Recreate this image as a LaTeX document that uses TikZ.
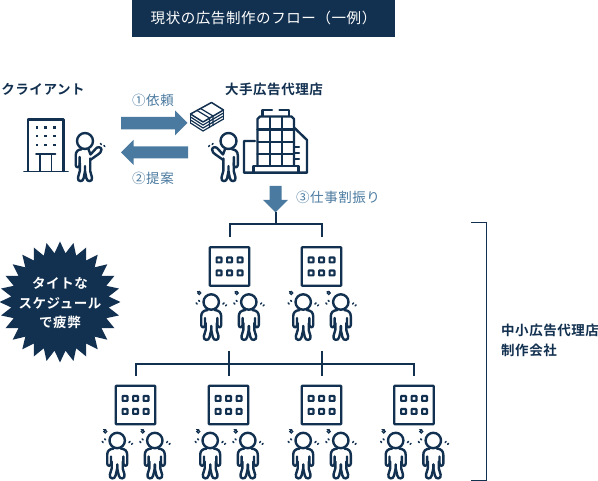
\documentclass[tikz,border=0pt]{standalone}
\usepackage{fontspec}
\usetikzlibrary{shapes.geometric}
\setmainfont{Noto Sans CJK JP}[BoldFont={Noto Sans CJK JP Bold},LetterSpace=4]
\definecolor{navy}{HTML}{12304F}
\definecolor{steel}{HTML}{4A7A9F}
\tikzset{
  ink/.style={draw=navy,line width=2.4pt,line cap=round,line join=round},
  thin ink/.style={draw=navy,line width=1.5pt,line cap=round},
  tree/.style={draw=navy,line width=2pt,line join=miter},
  company/.style={draw=navy,line width=2.3pt,rectangle,rounded corners=0.8pt,minimum width=39.5pt,minimum height=38.5pt,inner sep=0pt},
  win/.style={draw=navy,line width=2.2pt,rounded corners=0.6pt},
  blue label/.style={text=steel,font=\fontsize{13.5}{15}\selectfont,inner sep=0pt},
  bold label/.style={text=navy,font=\fontsize{13.5}{15}\selectfont\bfseries,inner sep=0pt},
  pics/worried/.style={code={
    \draw[ink,fill=white] (0,0) circle (7.7);
    \foreach \s in {1,-1}{
      \begin{scope}[xscale=\s]
      \draw[ink] (3.5,8) .. controls (8,8.5) and (10,10.5) .. (10,14.5) -- (10,23)
        .. controls (10,26) and (6.2,26) .. (6.2,23) -- (6.2,16);
      \draw[ink] (5.5,21) -- (5.5,28) -- (7.3,34)
        .. controls (8.6,38.5) and (2.2,39.5) .. (1.6,35) -- (0,28) -- (0,24);
      \end{scope}}
    \draw[thin ink] (-15,1) -- (-14,2) (-12.6,-1.6) -- (-11.6,-0.6);
    \draw[thin ink] (11.8,2) -- (12.8,1) (14.4,3.8) -- (15.4,2.8);
    \draw[draw=navy,line width=1.3pt,fill=white] (-12,-9) circle (1.5);
    \draw[navy,line width=1.3pt,line cap=round] (-13.7,-10.8) -- (-11.5,-10.8);
  }},
  pics/caller/.style={code={
    \draw[ink,fill=white] (0,0) circle (8);
    \draw[ink] (-3.5,8.3) .. controls (-7,8.5) and (-9.3,10.5) .. (-9.3,14.5) -- (-9.3,24)
      .. controls (-9.3,27) and (-5.4,27) .. (-5.4,24) -- (-5.4,16);
    \draw[ink] (-5.2,22) -- (-5.2,30) -- (-7,36.5)
      .. controls (-8,41) and (-1.8,41.5) .. (-1.3,37) -- (0,30) -- (0,25)
      (0,30) -- (1.3,37) .. controls (1.8,41.5) and (8,41) .. (7,36.5) -- (5.2,30) -- (5.2,17.5);
    \draw[ink] (3.5,8.3) -- (5.5,13.5) -- (10.5,8) .. controls (12,5.5) and (16,5.5) .. (16.5,8.5)
      .. controls (16.5,11) and (14.5,12.5) .. (13,13.5) -- (5.2,19);
    \draw[thin ink] (15.5,2.5) -- (16.3,3.5) (19,4.5) -- (19.8,5.5);
  }},
}
\begin{document}
\begin{tikzpicture}[x=1pt,y=-1pt]
\useasboundingbox (0,0) rectangle (598,481);
% banner
\fill[navy] (132,0) rectangle (395,37);
\node[text=white,inner sep=0pt,font=\fontsize{14.5}{16}\selectfont] (title) at (263.5,18) {現状の広告制作のフロー（一例）};
% top labels
\node[bold label] (client) at (43,89.5) {クライアント};
\node[bold label] (agency) at (274,89.5) {大手広告代理店};
\node[blue label] (l1) at (153,100) {①依頼};
\node[blue label] (l2) at (153,178) {②提案};
\node[blue label,anchor=west] (l3) at (296,197) {③仕事割振り};
% blue arrows
\fill[steel] (121,117) -- (175,117) -- (175,110.5) -- (187.5,123) -- (175,135.5) -- (175,129.5) -- (121,129.5) -- cycle;
\fill[steel] (188,146.5) -- (133.5,146.5) -- (133.5,140) -- (121,152.5) -- (133.5,165) -- (133.5,158.5) -- (188,158.5) -- cycle;
\fill[steel] (269.5,186) -- (281.5,186) -- (281.5,200) -- (288,200) -- (275.5,212.5) -- (263,200) -- (269.5,200) -- cycle;
% client building
\draw[ink] (28,171) -- (28,119.5) -- (63.5,119.5) -- (63.5,171);
\draw[ink,line width=1.9pt] (24,171.5) -- (68,171.5);
\draw[ink,line width=1.9pt] (36,154) -- (55.5,154) (40,154) -- (40,171) (51.5,154) -- (51.5,171);
\foreach \y in {127.5,136,145}\foreach \x in {37,45.5,54.5}{\fill[navy] (\x-1.2,\y-1.2) rectangle (\x+1.2,\y+1.2);}
\pic at (85,141) {caller};
% money
\begin{scope}[line join=round]
\draw[ink,line width=1.5pt] (190.5,114) -- (211.5,102.5) -- (223.5,110) -- (203,122) -- cycle;
\foreach \d in {3,6,9}{\draw[ink,line width=1.2pt] (190.5,114+\d) -- (203,122+\d) -- (223.5,110+\d);}
\draw[ink,line width=1.2pt] (190.5,114) -- (190.5,123) (223.5,110) -- (223.5,119);
\draw[ink,line width=1.2pt] (197,110.5) -- (209.5,118) (200.5,108.5) -- (213,116) (209.5,118) -- (209.5,127.5) (213,116) -- (213,125.5);
\end{scope}
% agency person & building
\pic[xscale=-1] at (228.5,141) {caller};
\draw[ink] (257.5,166) -- (257.5,119) -- (260,116.5) -- (291.5,116.5) -- (294,119) -- (294,166);
\draw[ink] (270,117) -- (270,166) (282,117) -- (282,166);
\draw[ink] (257.5,129.5) -- (294,129.5) (257.5,141.8) -- (294,141.8) (257.5,154.2) -- (294,154.2);
\draw[ink] (262.5,116) -- (262.5,110) -- (272,110) (279.5,110) -- (289,110) -- (289,116);
\draw[ink] (253.5,172.5) -- (253.5,166.2) -- (298.5,166.2) -- (298.5,172.5);
\draw[ink] (255,141) -- (244,141) -- (244,172.7) -- (307,172.7) -- (307,140) -- (294,127.5);
\draw[ink] (294,147.3) -- (299,147.3) (294,153.3) -- (299,153.3) (294,159.3) -- (299,159.3);
% company nodes
\foreach \n/\x/\y in {c1/229.5/266.5,c2/321.5/266.5,c3/135.5/405,c4/228.5/405,c5/321.5/405,c6/414/405}{
  \node[company] (\n) at (\x,\y) {};
  \foreach \dx in {-10.5,0,10.5}\foreach \dy in {-6.5,6.5}{
    \draw[win] (\x+\dx-2.4,\y+\dy-2.4) rectangle (\x+\dx+2.4,\y+\dy+2.4);}
  \pic at (\x-18.3,\y+35.5) {worried};
  \pic at (\x+19.3,\y+35.5) {worried};
}
% trees
\coordinate (a3) at (275.5,212);
\coordinate (j1) at (275.5,224.5);
\coordinate (d1) at (229.5,237);
\coordinate (d2) at (321.5,237);
\draw[tree] (a3) -- (j1);
\draw[tree] (d1) -- (d1 |- j1) -- (d2 |- j1) -- (d2);
\coordinate (y2) at (0,364);
\coordinate (d3) at (135.5,376);
\coordinate (d4) at (228.5,376);
\coordinate (d5) at (321.5,376);
\coordinate (d6) at (414,376);
\coordinate (s4) at (228.5,351);
\coordinate (s5) at (321.5,351);
\draw[tree] (d3) -- (d3 |- y2) -- (d6 |- y2) -- (d6);
\draw[tree] (s4) -- (d4);
\draw[tree] (s5) -- (d5);
% starburst
\node[star,star points=28,star point height=11.5pt,minimum size=121pt,inner sep=0pt,fill=navy,draw=none] (burstbg) at (60,302) {};
\node[text=white,align=center,inner sep=0pt,font=\fontsize{13.5}{19.5}\selectfont\bfseries] (burst) at (60,303) {タイトな\\スケジュール\\で疲弊};
% bracket
\coordinate (b1) at (471,222);
\coordinate (b2) at (471,480);
\draw[navy,line width=0.9pt] (b1) -- (486,222) -- (486,480) -- (b2);
\node[bold label,anchor=north west,align=left,font=\fontsize{13.5}{20}\selectfont,text=navy] (sme) at (501,323.5) {\textbf{中小広告代理店}\\\textbf{制作会社}};
\end{tikzpicture}
\end{document}
